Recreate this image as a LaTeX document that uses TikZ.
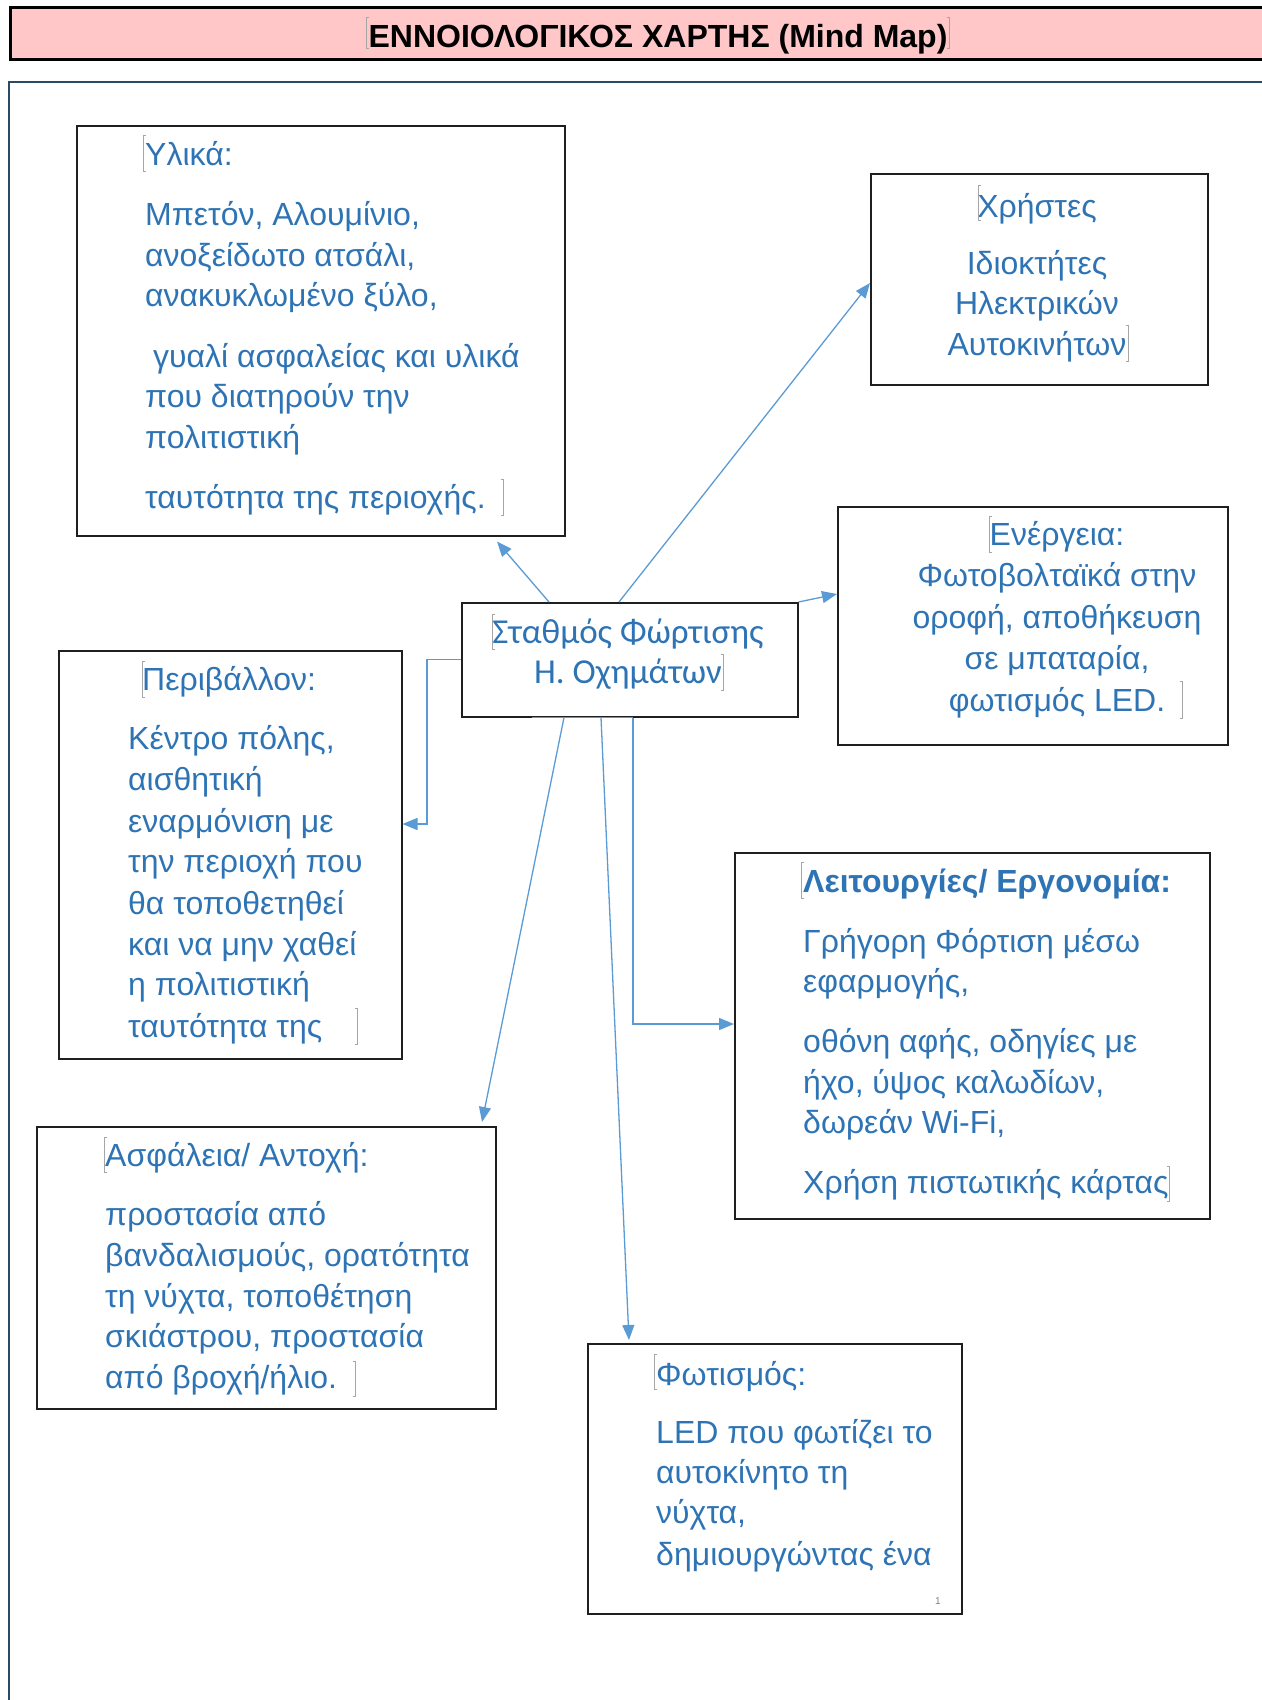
\documentclass[tikz,border=0pt]{standalone}
\usepackage{fontspec}
\setmainfont{Liberation Sans}
\newfontfamily\calib{Carlito}
\usetikzlibrary{arrows.meta,calc}
\definecolor{txtblue}{HTML}{2E74B5}
\definecolor{lnblue}{HTML}{5B9BD5}
\definecolor{titlepink}{HTML}{FFC7C7}
\definecolor{framecol}{HTML}{2B4A68}
\newcommand{\lbrk}[3]{\draw[brk] ({#1+2.5},#2) -- (#1,#2) -- (#1,#3) -- ({#1+2.5},#3);}
\newcommand{\rbrk}[3]{\draw[brk] ({#1-2.5},#2) -- (#1,#2) -- (#1,#3) -- ({#1-2.5},#3);}
\begin{document}
\begin{tikzpicture}[x=1pt,y=-1pt,
  box/.style={draw=black!88, line width=1.5pt, inner sep=0pt, anchor=north west},
  tl/.style={anchor=base west, inner sep=0pt, text=txtblue, font=\fontsize{32}{38}\selectfont},
  tc/.style={anchor=base, inner sep=0pt, text=txtblue, font=\fontsize{32}{38}\selectfont},
  conn/.style={draw=lnblue, line width=1.3pt, -{Triangle[length=15pt,width=12pt]}},
  brk/.style={draw=gray!70, line width=0.7pt}]
\useasboundingbox (0,0) rectangle (1261,1700);
% title and frame
\node[box, draw=black, line width=2.6pt, fill=titlepink, minimum width=1266pt, minimum height=52pt] (title) at (9,6) {};
\node[anchor=base, inner sep=0pt, font=\bfseries\fontsize{32}{38}\selectfont] (titletext) at (658,47) {ΕΝΝΟΙΟΛΟΓΙΚΟΣ ΧΑΡΤΗΣ (Mind Map)};
\draw[draw=framecol, line width=2.6pt] (9,82) rectangle (1290,1730);
% boxes
\node[box, minimum width=488pt, minimum height=410pt] (ylika) at (76,125) {};
\node[box, minimum width=337pt, minimum height=211pt] (xristes) at (870,173) {};
\node[box, minimum width=390pt, minimum height=238pt] (energeia) at (837,506) {};
\node[box, minimum width=336pt, minimum height=114pt] (center) at (461,602) {};
\node[box, minimum width=343pt, minimum height=408pt] (perivallon) at (58,650) {};
\node[box, minimum width=475pt, minimum height=366pt] (leitourgies) at (734,852) {};
\node[box, minimum width=459pt, minimum height=282pt] (asfaleia) at (36,1126) {};
\node[box, minimum width=374pt, minimum height=270pt] (fotismos) at (587,1343) {};
% connectors
\draw[conn] ($(center.north west)+(88,0)$) -- ($(ylika.south west)+(421,5)$);
\draw[conn] ($(center.north west)+(158,0)$) -- ($(xristes.north west)+(0,110)$);
\draw[conn] (center.north east) -- ($(energeia.north west)+(0,88)$);
\draw[conn] (center.west) -- ++(-34,0) |- ($(perivallon.north east)+(0,174)$);
\draw[conn] ($(center.south west)+(103,0)$) -- ($(asfaleia.north west)+(446,-4)$);
\draw[conn] ($(center.south west)+(140,0)$) -- ($(fotismos.north west)+(42,-3)$);
\draw[conn] ($(center.south west)+(172,0)$) |- ($(leitourgies.north west)+(0,172)$);
\draw[draw=lnblue, line width=1.3pt] ($(center.south west)+(71,0)$) -- ($(center.south west)+(172,0)$);
% Υλικά
\node[tl] (y1) at (145,165) {Υλικά:};
\node[tl] (y2) at (145,225) {Μπετόν, Αλουμίνιο,};
\node[tl] (y3) at (145,266) {ανοξείδωτο ατσάλι,};
\node[tl] (y4) at (145,306) {ανακυκλωμένο ξύλο,};
\node[tl] (y5) at (153,367) {γυαλί ασφαλείας και υλικά};
\node[tl] (y6) at (145,407) {που διατηρούν την};
\node[tl] (y7) at (145,448) {πολιτιστική};
\node[tl] (y8) at (145,508) {ταυτότητα της περιοχής.};
% Χρήστες
\node[tc] (x1) at (1037,217) {Χρήστες};
\node[tc] (x2) at (1037,274) {Ιδιοκτήτες};
\node[tc] (x3) at (1037,314) {Ηλεκτρικών};
\node[tc] (x4) at (1037,355) {Αυτοκινήτων};
% Ενέργεια
\node[tc] (e1) at (1057,545) {Ενέργεια:};
\node[tc] (e2) at (1057,586) {Φωτοβολταϊκά στην};
\node[tc] (e3) at (1057,628) {οροφή, αποθήκευση};
\node[tc] (e4) at (1057,669) {σε μπαταρία,};
\node[tc] (e5) at (1057,711) {φωτισμός LED.};
% central
\node[tc, font=\calib\fontsize{35}{40}\selectfont] (c1) at (628,643) {Σταθμός Φώρτισης};
\node[tc, font=\calib\fontsize{35}{40}\selectfont] (c2) at (628,683) {Η. Οχημάτων};
% Περιβάλλον
\node[tl] (p1) at (142,690) {Περιβάλλον:};
\node[tl] (p2) at (128,749) {Κέντρο πόλης,};
\node[tl] (p3) at (128,790) {αισθητική};
\node[tl] (p4) at (128,832) {εναρμόνιση με};
\node[tl] (p5) at (128,872) {την περιοχή που};
\node[tl] (p6) at (128,914) {θα τοποθετηθεί};
\node[tl] (p7) at (128,955) {και να μην χαθεί};
\node[tl] (p8) at (128,995) {η πολιτιστική};
\node[tl] (p9) at (128,1037) {ταυτότητα της};
% Λειτουργίες
\node[tl, font=\bfseries\fontsize{32}{38}\selectfont] (l1) at (803,892) {Λειτουργίες/ Εργονομία:};
\node[tl] (l2) at (803,952) {Γρήγορη Φόρτιση μέσω};
\node[tl] (l3) at (803,992) {εφαρμογής,};
\node[tl] (l4) at (803,1052) {οθόνη αφής, οδηγίες με};
\node[tl] (l5) at (803,1093) {ήχο, ύψος καλωδίων,};
\node[tl] (l6) at (803,1133) {δωρεάν Wi-Fi,};
\node[tl] (l7) at (803,1193) {Χρήση πιστωτικής κάρτας};
% Ασφάλεια
\node[tl] (a1) at (105,1166) {Ασφάλεια/ Αντοχή:};
\node[tl] (a2) at (105,1225) {προστασία από};
\node[tl] (a3) at (105,1266) {βανδαλισμούς, ορατότητα};
\node[tl] (a4) at (105,1307) {τη νύχτα, τοποθέτηση};
\node[tl] (a5) at (105,1347) {σκιάστρου, προστασία};
\node[tl] (a6) at (105,1388) {από βροχή/ήλιο.};
% Φωτισμός
\node[tl] (f1) at (656,1385) {Φωτισμός:};
\node[tl] (f2) at (656,1443) {LED που φωτίζει το};
\node[tl] (f3) at (656,1483) {αυτοκίνητο τη};
\node[tl] (f4) at (656,1523) {νύχτα,};
\node[tl] (f5) at (656,1565) {δημιουργώντας ένα};
\node[anchor=base, inner sep=0pt, text=gray, font=\fontsize{10}{12}\selectfont] (fn) at (938,1604) {1};
% text frame marks
\lbrk{366}{17}{48}
\rbrk{949}{17}{48}
\lbrk{143}{135}{171}
\rbrk{503}{479}{515}
\lbrk{492}{614}{649}
\rbrk{723}{654}{690}
\lbrk{978}{185}{220}
\rbrk{1128}{325}{361}
\lbrk{989}{516}{552}
\rbrk{1182}{681}{718}
\lbrk{142}{661}{697}
\rbrk{357}{1008}{1044}
\lbrk{801}{862}{898}
\rbrk{1169}{1166}{1201}
\lbrk{104}{1137}{1172}
\rbrk{355}{1361}{1396}
\lbrk{654}{1354}{1389}
\end{tikzpicture}
\end{document}
